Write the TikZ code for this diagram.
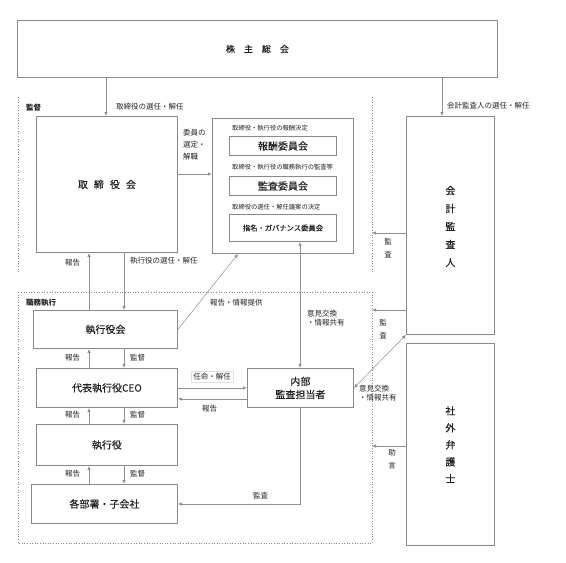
\documentclass[tikz,border=0pt]{standalone}
\usepackage{fontspec}
\setmainfont{Noto Sans CJK JP}
\newfontfamily\boxfont[FakeBold=0.35]{Noto Sans CJK JP}
\usetikzlibrary{arrows.meta,calc}
\definecolor{boxgray}{HTML}{8A8A8A}
\definecolor{linegray}{HTML}{8F8F8F}
\definecolor{txt}{HTML}{222222}
\begin{document}
\begin{tikzpicture}[x=1pt,y=-1pt,
  box/.style={draw=boxgray,line width=0.9pt,inner sep=0pt,anchor=north west,
    font=\boxfont\fontsize{10}{12}\selectfont,text=txt},
  lbl/.style={font=\fontsize{7.5}{9}\selectfont,inner sep=0pt,anchor=west,text=txt},
  clbl/.style={font=\fontsize{6.3}{8}\selectfont,inner sep=0pt,anchor=west,text=txt},
  vlbl/.style={font=\fontsize{7.5}{13}\selectfont,inner sep=0pt,align=center,text=txt},
  arr/.style={draw=linegray,line width=0.8pt,-{Latex[length=4pt,width=3.5pt]}},
  darr/.style={draw=linegray,line width=0.8pt,{Latex[length=4pt,width=3.5pt]}-{Latex[length=4pt,width=3.5pt]}},
  dot/.style={draw=boxgray,line width=0.6pt,dotted},
]
\useasboundingbox[fill=white] (0,0) rectangle (566,563);

% helper coordinates
\coordinate (xa) at (106,0);
\coordinate (xb) at (442,0);
\coordinate (xc) at (89,0);
\coordinate (xd) at (124,0);
\coordinate (xe) at (300,0);
\coordinate (xf) at (238,0);
\coordinate (ya) at (0,174);
\coordinate (yb) at (0,233);
\coordinate (yc) at (0,310);
\coordinate (yd) at (0,446);
\coordinate (ye) at (0,399);

% regions
\draw[dot] (18,97) -- (18,272);
\draw[dot] (372,97) -- (372,272);
\draw[dot] (18,292) rectangle (372,543);
\coordinate (rline) at (372,0);
\node[lbl,font=\fontsize{7.5}{9}\selectfont\bfseries] (kantoku) at (26,108) {監督};
\node[lbl,font=\fontsize{7.5}{9}\selectfont\bfseries] (shokumu) at (26,303) {職務執行};

% boxes
\node[box,minimum width=480pt,minimum height=57pt,font=\boxfont\fontsize{9}{11}\selectfont] (sokai) at (17,20) {株\hspace{9pt}主\hspace{9pt}総\hspace{9pt}会};
\node[box,minimum width=141pt,minimum height=136pt] (torikai) at (36,116) {取\hspace{6pt}締\hspace{6pt}役\hspace{6pt}会};
\node[box,minimum width=141pt,minimum height=135pt] (iinkai) at (212,118) {};
\node[box,minimum width=107pt,minimum height=19pt] (hoshu) at (229,136) {報酬委員会};
\node[box,minimum width=107pt,minimum height=19pt] (kansa) at (229,176) {監査委員会};
\node[box,minimum width=107pt,minimum height=27pt,font=\boxfont\fontsize{7.3}{9}\selectfont] (shimei) at (229,214) {指名・ガバナンス委員会};
\node[clbl] at (232,128) {取締役・執行役の報酬決定};
\node[clbl] at (232,167) {取締役・執行役の職務執行の監査等};
\node[clbl] at (232,207) {取締役の選任・解任議案の決定};

\node[box,minimum width=88pt,minimum height=218pt] (kaikei) at (406,116) {};
\node[font=\boxfont\fontsize{10}{18}\selectfont,align=center,text=txt,inner sep=0pt] at (kaikei.center |- 0,226.5) {会\\計\\監\\査\\人};
\node[box,minimum width=88pt,minimum height=202pt] (bengo) at (406,343) {};
\node[font=\boxfont\fontsize{10}{17}\selectfont,align=center,text=txt,inner sep=0pt] at (bengo.center |- 0,444.5) {社\\外\\弁\\護\\士};

\node[box,minimum width=144pt,minimum height=38pt] (shikkoukai) at (33,310) {執行役会};
\node[box,minimum width=141pt,minimum height=39pt] (ceo) at (36,368) {代表執行役CEO};
\node[box,minimum width=141pt,minimum height=41pt] (shikkou) at (36,424) {執行役};
\node[box,minimum width=146pt,minimum height=39pt] (kakubu) at (31,484) {各部署・子会社};
\node[box,minimum width=106pt,minimum height=39pt,align=center,font=\boxfont\fontsize{10}{13}\selectfont] (naibu) at (247,368) {内部\\監査担当者};

% connectors
\draw[arr] (sokai.south -| xa) -- (torikai.north -| xa);
\node[lbl] at (116,107) {取締役の選任・解任};
\draw[arr] (sokai.south -| xb) -- (kaikei.north -| xb);
\node[lbl] at (447,106) {会計監査人の選任・解任};

\draw[arr] (torikai.east |- ya) -- (iinkai.west |- ya);
\node[lbl,align=left,font=\fontsize{7.5}{12}\selectfont] at (183,145) {委員の\\選定・\\解職};

\draw[arr] (shikkoukai.north -| xc) -- (torikai.south -| xc);
\node[lbl] at (65,263) {報告};
\draw[arr] (torikai.south -| xd) -- (shikkoukai.north -| xd);
\node[lbl] at (130,261) {執行役の選任・解任};

\draw[arr,line width=0.5pt] (shikkoukai.east) -- (iinkai.south -| xf);
\node[lbl] at (210,303) {報告・情報提供};

\draw[darr] (naibu.north -| xe) -- (shimei.south -| xe);
\node[lbl,align=left] at (307,318) {意見交換\\・情報共有};

\draw[arr] (kaikei.west |- yb) -- (rline |- yb);
\node[vlbl] at (388,248) {監\\査};
\draw[arr] (kaikei.west |- yc) -- (rline |- yc);
\node[vlbl] at (383,329) {監\\査};
\draw[darr,line width=0.5pt] (naibu.east) -- (kaikei.south west);
\node[lbl,align=left] at (359,393) {意見交換\\・情報共有};
\draw[arr] (bengo.west |- yd) -- (rline |- yd);
\node[vlbl] at (392,459) {助\\言};

\draw[arr] (ceo.north -| xc) -- (shikkoukai.south -| xc);
\node[lbl] at (65,358) {報告};
\draw[arr] (shikkoukai.south -| xd) -- (ceo.north -| xd);
\node[lbl] at (130,358) {監督};

\draw[arr] (ceo.east) -- (naibu.west);
\node[lbl,anchor=center,fill=white,draw=black!12,inner sep=2pt] at (212,377) {任命・解任};
\draw[arr] (naibu.west |- ye) -- (ceo.east |- ye);
\node[lbl] at (202,409) {報告};

\draw[arr] (shikkou.north -| xc) -- (ceo.south -| xc);
\node[lbl] at (65,415) {報告};
\draw[arr] (ceo.south -| xd) -- (shikkou.north -| xd);
\node[lbl] at (130,415) {監督};

\draw[arr] (kakubu.north -| xc) -- (shikkou.south -| xc);
\node[lbl] at (65,474) {報告};
\draw[arr] (shikkou.south -| xd) -- (kakubu.north -| xd);
\node[lbl] at (130,474) {監督};

\draw[arr] (naibu.south -| xe) |- (kakubu.east);
\node[lbl] at (253,496) {監査};
\end{tikzpicture}
\end{document}
